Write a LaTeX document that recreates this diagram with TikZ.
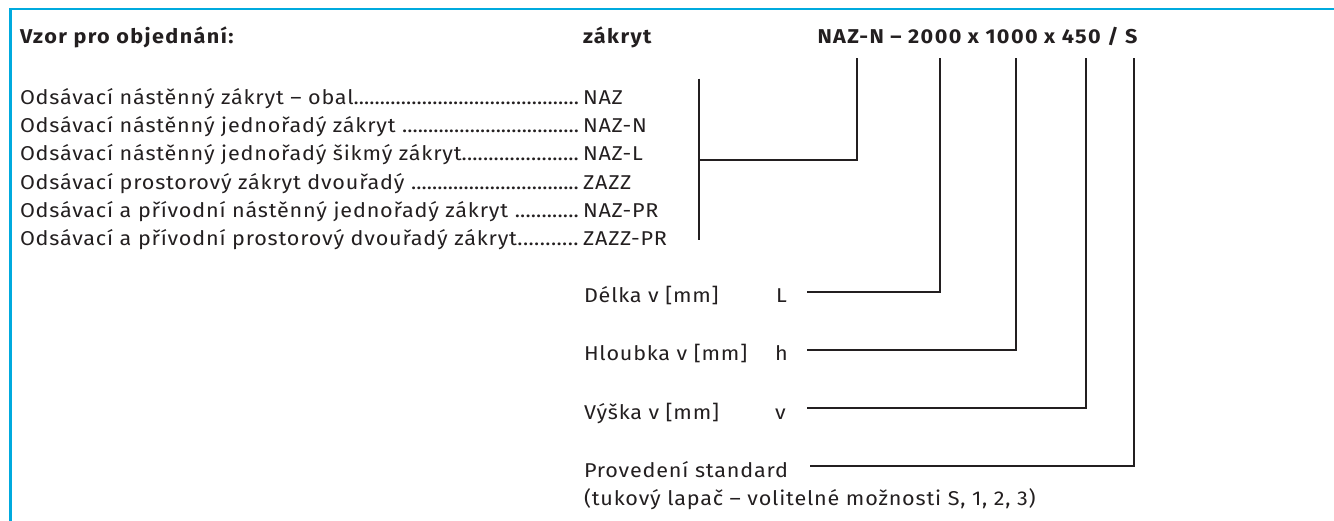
\documentclass[tikz,border=0pt]{standalone}
\usepackage{fontspec}
\setmainfont[FakeStretch=1.08, LetterSpace=4, BoldFeatures={LetterSpace=7}]{Fira Sans}
\definecolor{ink}{RGB}{35,31,32}
\definecolor{framec}{RGB}{0,170,222}
\newcommand\leadrow[1]{\hbox to 559pt{#1\xleaders\hbox{.}\hfill}}
\begin{document}
\begin{tikzpicture}[x=1pt,y=-1pt,
  every node/.style={inner sep=0pt, outer sep=0pt, text=ink, font=\fontsize{20}{24}\selectfont},
  txt/.style={anchor=base west},
  hdr/.style={anchor=base west, font=\fontsize{20}{24}\selectfont\bfseries},
  conn/.style={draw=ink, line width=1.2pt},
  frameline/.style={draw=framec, line width=2.6pt, line join=miter}]
\useasboundingbox (0,0) rectangle (1334,521);
\draw[frameline] (1334,9) -- (10.5,9) -- (10.5,521);
% header
\node[hdr] (h1) at (20,44) {Vzor pro objednání:};
\node[hdr] (h2) at (583,44) {zákryt};
\node[hdr] (h3) at (817.5,44) {NAZ-N – 2000 x 1000 x 450 / S};
% list
\node[txt] (l1) at (20,104.4) {\leadrow{Odsávací nástěnný zákryt – obal}};
\node[txt] (l2) at (20,132.7) {\leadrow{Odsávací nástěnný jednořadý zákryt }};
\node[txt] (l3) at (20,161.0) {\leadrow{Odsávací nástěnný jednořadý šikmý zákryt}};
\node[txt] (l4) at (20,189.3) {\leadrow{Odsávací prostorový zákryt dvouřadý }};
\node[txt] (l5) at (20,217.6) {\leadrow{Odsávací a přívodní nástěnný jednořadý zákryt }};
\node[txt] (l6) at (20,245.9) {\leadrow{Odsávací a přívodní prostorový dvouřadý zákryt}};
\node[txt] (c1) at (583,104.4) {NAZ};
\node[txt] (c2) at (583,132.7) {NAZ-N};
\node[txt] (c3) at (583,161.0) {NAZ-L};
\node[txt] (c4) at (583,189.3) {ZAZZ};
\node[txt] (c5) at (583,217.6) {NAZ-PR};
\node[txt] (c6) at (583,245.9) {ZAZZ-PR};
% bracket
\coordinate (bt) at (699,78.7);
\coordinate (bb) at (699,240);
\coordinate (bm) at (699,160);
\coordinate (tN) at (857,58.5);
\draw[conn] (bt) -- (bb);
\draw[conn] (bm) -| (tN);
% dimension labels
\node[txt] (dL) at (584,303) {Délka v [mm]};
\node[txt] (sL) at (776,303) {L};
\node[txt] (dH) at (584,361) {Hloubka v [mm]};
\node[txt] (sH) at (775,361) {h};
\node[txt] (dV) at (584,419) {Výška v [mm]};
\node[txt] (sV) at (775,419) {v};
\node[txt] (dP) at (584,477) {Provedení standard};
\node[txt] (dT) at (584,505.5) {(tukový lapač – volitelné možnosti S, 1, 2, 3)};
\coordinate (eL) at (807,292);
\coordinate (eH) at (807,350);
\coordinate (eV) at (807,408);
\coordinate (eP) at (810,466);
\coordinate (tL) at (940,58.5);
\coordinate (tH) at (1016,58.5);
\coordinate (tV) at (1086,58.5);
\coordinate (tS) at (1134,58.5);
\draw[conn] (eL) -| (tL);
\draw[conn] (eH) -| (tH);
\draw[conn] (eV) -| (tV);
\draw[conn] (eP) -| (tS);
\end{tikzpicture}
\end{document}
